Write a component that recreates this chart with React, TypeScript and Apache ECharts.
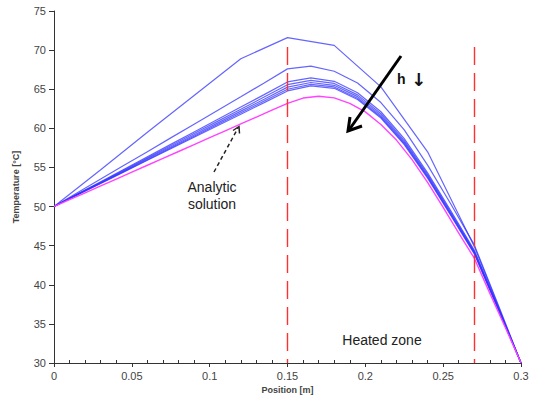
import React, { useEffect, useRef } from "react";
import * as echarts from "echarts";

// x grids
const x11 = [0, 0.03, 0.06, 0.09, 0.12, 0.15, 0.18, 0.21, 0.24, 0.27, 0.3];
const x21 = [0, 0.015, 0.03, 0.045, 0.06, 0.075, 0.09, 0.105, 0.12, 0.135, 0.15, 0.165, 0.18, 0.195, 0.21, 0.225, 0.24, 0.255, 0.27, 0.285, 0.3];
const x31 = [0, 0.01, 0.02, 0.03, 0.04, 0.05, 0.06, 0.07, 0.08, 0.09, 0.1, 0.11, 0.12, 0.13, 0.14, 0.15, 0.16, 0.17, 0.18, 0.19, 0.2, 0.21, 0.22, 0.23, 0.24, 0.25, 0.26, 0.27, 0.28, 0.29, 0.3];

// numerical solutions (coarse to fine mesh)
const num1 = [50, 54.7, 59.5, 64.2, 68.9, 71.6, 70.6, 65.3, 57.0, 44.9, 30];
const num2 = [50, 51.76, 53.51, 55.27, 57.02, 58.78, 60.53, 62.29, 64.04, 65.8, 67.6, 67.95, 67.3, 65.8, 63.3, 59.8, 55.3, 50.3, 45.1, 37.6, 30];
const num3 = [50, 51.59, 53.18, 54.77, 56.36, 57.95, 59.54, 61.13, 62.72, 64.31, 65.93, 66.45, 66.01, 64.55, 62.12, 58.68, 54.31, 49.43, 44.42, 37.26, 30];
const num4 = [50, 51.56, 53.11, 54.67, 56.22, 57.78, 59.33, 60.89, 62.44, 64.0, 65.58, 66.13, 65.74, 64.28, 61.87, 58.44, 54.1, 49.24, 44.27, 37.19, 30];
const num5 = [50, 51.53, 53.05, 54.58, 56.1, 57.62, 59.15, 60.67, 62.2, 63.72, 65.27, 65.86, 65.5, 64.05, 61.66, 58.24, 53.92, 49.08, 44.15, 37.12, 30];
const num6 = [50, 51.5, 53.0, 54.5, 55.99, 57.49, 58.99, 60.49, 61.99, 63.49, 65.0, 65.62, 65.29, 63.85, 61.47, 58.06, 53.77, 48.94, 44.04, 37.07, 30];
const num7 = [50, 51.48, 52.95, 54.43, 55.91, 57.38, 58.86, 60.34, 61.81, 63.29, 64.78, 65.42, 65.12, 63.69, 61.32, 57.91, 53.64, 48.83, 43.95, 37.02, 30];

// analytic solution
const analytic = [50, 50.88, 51.76, 52.64, 53.52, 54.4, 55.28, 56.16, 57.04, 57.92, 58.8, 59.68, 60.56, 61.44, 62.32, 63.2, 63.87, 64.1, 63.9, 63.2, 62.1, 60.5, 58.5, 56.0, 53.1, 49.9, 46.6, 43.4, 38.9, 34.5, 30];

// heated zone bounds
const heatedZone = [0.15, 0.27];
const zoneTop = 70.4;

const pairs = (xs: number[], ys: number[]) => xs.map((x, i) => [x, ys[i]]);

export default function App() {
  const ref = useRef<HTMLDivElement>(null);
  useEffect(() => {
    if (!ref.current) return;
    const chart = echarts.init(ref.current, undefined, { renderer: "svg" });
    const blue = "rgba(50,50,255,0.75)";
    const numSeries = [
      [x11, num1],
      [x21, num2],
      [x21, num3],
      [x21, num4],
      [x21, num5],
      [x21, num6],
      [x21, num7],
    ].map(([xs, ys], i) => ({
      type: "line",
      name: "num" + (i + 1),
      data: pairs(xs as number[], ys as number[]),
      showSymbol: false,
      symbol: "none",
      lineStyle: { color: blue, width: 1.2 },
      z: 3,
    }));
    chart.setOption({
      animation: false,
      grid: { left: 54, right: 18, top: 11, bottom: 38 },
      xAxis: {
        type: "value",
        min: 0,
        max: 0.3,
        interval: 0.05,
        name: "Position [m]",
        nameLocation: "middle",
        nameGap: 21,
        nameTextStyle: { fontFamily: "Liberation Sans", fontSize: 9, fontWeight: "bold", color: "#444" },
        axisLine: { lineStyle: { color: "#333", width: 1 } },
        axisTick: { show: true, length: 4, lineStyle: { color: "#333" } },
        minorTick: { show: true, splitNumber: 5, length: -3, lineStyle: { color: "#333" } },
        axisLabel: { fontFamily: "Liberation Sans", fontSize: 11, color: "#444", margin: 7 },
        splitLine: { show: false },
      },
      yAxis: {
        type: "value",
        min: 30,
        max: 75,
        interval: 5,
        name: "Temperature [°C]",
        nameLocation: "middle",
        nameGap: 34,
        nameRotate: 90,
        nameTextStyle: { fontFamily: "Liberation Sans", fontSize: 9, fontWeight: "bold", color: "#444" },
        axisLine: { show: true, lineStyle: { color: "#333", width: 1 } },
        axisTick: { show: true, length: 5, lineStyle: { color: "#333" } },
        axisLabel: { fontFamily: "Liberation Sans", fontSize: 11, color: "#444", margin: 8 },
        splitLine: { show: false },
      },
      series: [
        ...numSeries,
        {
          type: "line",
          name: "Analytic",
          data: pairs(x31, analytic),
          showSymbol: false,
          symbol: "none",
          lineStyle: { color: "#ff44ff", width: 1.4 },
          z: 4,
          markLine: {
            silent: true,
            symbol: ["none", "none"],
            label: { show: false },
            lineStyle: { color: "#ff3030", type: [18, 8], width: 1.4 },
            data: heatedZone.map((x) => [
              { coord: [x, zoneTop] },
              { coord: [x, 30] },
            ]),
          },
        },
      ],
      graphic: [
        { type: "line", shape: { x1: 401, y1: 56, x2: 349, y2: 130 }, style: { stroke: "#000", lineWidth: 3 }, z: 10 },
        { type: "polyline", shape: { points: [[350, 117], [348, 131], [362, 126]] }, style: { stroke: "#000", lineWidth: 3, fill: null }, z: 10 },
        { type: "text", left: 397, top: 72, style: { text: "h", font: "bold 14px 'Liberation Sans'", fill: "#111" }, z: 10 },
        { type: "text", left: 411, top: 70, style: { text: "↓", font: "bold 18px 'DejaVu Sans'", fill: "#111" }, z: 10 },
        { type: "line", shape: { x1: 214, y1: 172, x2: 238, y2: 128 }, style: { stroke: "#222", lineWidth: 1.5, lineDash: [4, 3] }, z: 10 },
        { type: "polyline", shape: { points: [[233, 130.5], [239, 126.5], [239.5, 133.5]] }, style: { stroke: "#222", lineWidth: 1.5, fill: null }, z: 10 },
        { type: "text", x: 212, y: 187, style: { text: "Analytic", font: "14px 'Liberation Sans'", fill: "#222", align: "center", verticalAlign: "middle" }, z: 10 },
        { type: "text", x: 212, y: 204, style: { text: "solution", font: "14px 'Liberation Sans'", fill: "#222", align: "center", verticalAlign: "middle" }, z: 10 },
        { type: "text", x: 382, y: 340, style: { text: "Heated zone", font: "14px 'Liberation Sans'", fill: "#222", align: "center", verticalAlign: "middle" }, z: 10 },
      ],
    });
    return () => chart.dispose();
  }, []);
  return <div ref={ref} style={{ position: "fixed", left: 0, top: 0, width: 539, height: 401, background: "#fff" }} />;
}
